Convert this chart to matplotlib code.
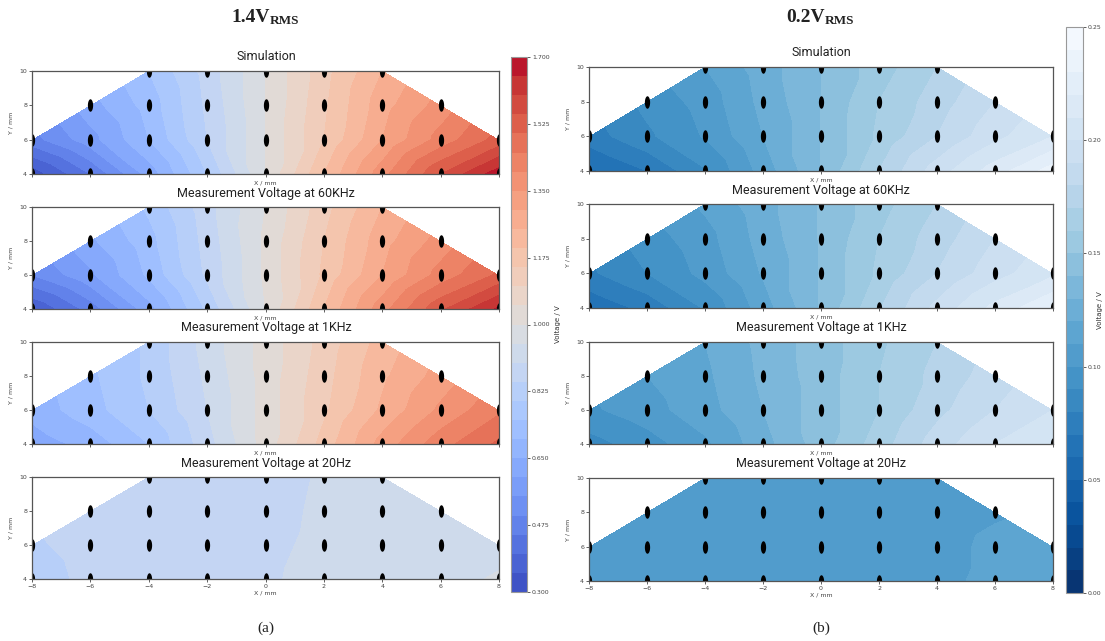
import numpy as np
import matplotlib.pyplot as plt
import matplotlib.tri as mtri

# measurement positions, one list of x per row (y = 10, 8, 6, 4 mm)
row_y = [10, 8, 6, 4]
row_x = [[-4, -2, 0, 2, 4],
         [-6, -4, -2, 0, 2, 4, 6],
         [-8, -6, -4, -2, 0, 2, 4, 6, 8],
         [-8, -6, -4, -2, 0, 2, 4, 6, 8]]

# 1.4 Vrms panel, voltages (rows as above)
sim_14 = [[0.75, 0.87, 1.00, 1.13, 1.25],
          [0.63, 0.72, 0.86, 1.00, 1.14, 1.28, 1.37],
          [0.48, 0.58, 0.70, 0.85, 1.00, 1.15, 1.30, 1.42, 1.52],
          [0.32, 0.45, 0.62, 0.80, 1.00, 1.20, 1.38, 1.55, 1.68]]
khz60_14 = [[0.76, 0.88, 1.00, 1.13, 1.25],
            [0.64, 0.73, 0.87, 1.01, 1.15, 1.28, 1.37],
            [0.50, 0.59, 0.71, 0.86, 1.01, 1.16, 1.30, 1.42, 1.51],
            [0.35, 0.47, 0.63, 0.81, 1.00, 1.20, 1.38, 1.54, 1.66]]
khz1_14 = [[0.81, 0.92, 1.02, 1.12, 1.22],
           [0.74, 0.81, 0.91, 1.02, 1.13, 1.24, 1.32],
           [0.67, 0.73, 0.80, 0.90, 1.02, 1.14, 1.26, 1.36, 1.44],
           [0.62, 0.67, 0.75, 0.88, 1.02, 1.17, 1.32, 1.43, 1.51]]
hz20_14 = [[0.875, 0.878, 0.882, 0.905, 0.915],
           [0.870, 0.875, 0.880, 0.885, 0.908, 0.918, 0.925],
           [0.845, 0.862, 0.872, 0.880, 0.890, 0.910, 0.922, 0.930, 0.935],
           [0.835, 0.858, 0.868, 0.878, 0.895, 0.912, 0.925, 0.935, 0.955]]

# 0.2 Vrms panel
sim_02 = [[0.110, 0.125, 0.140, 0.155, 0.170],
          [0.093, 0.104, 0.123, 0.140, 0.160, 0.175, 0.190],
          [0.075, 0.088, 0.101, 0.120, 0.140, 0.162, 0.180, 0.197, 0.210],
          [0.058, 0.070, 0.089, 0.114, 0.140, 0.170, 0.195, 0.215, 0.235]]
khz60_02 = [[0.112, 0.126, 0.141, 0.156, 0.170],
            [0.095, 0.106, 0.124, 0.141, 0.160, 0.175, 0.190],
            [0.078, 0.090, 0.103, 0.121, 0.141, 0.162, 0.180, 0.196, 0.208],
            [0.062, 0.073, 0.091, 0.115, 0.141, 0.169, 0.193, 0.213, 0.230]]
khz1_02 = [[0.120, 0.133, 0.145, 0.158, 0.170],
           [0.110, 0.118, 0.132, 0.145, 0.160, 0.173, 0.185],
           [0.098, 0.106, 0.116, 0.130, 0.145, 0.160, 0.177, 0.190, 0.200],
           [0.086, 0.095, 0.108, 0.126, 0.145, 0.165, 0.185, 0.200, 0.210]]
hz20_02 = [[0.105, 0.105, 0.105, 0.105, 0.105],
           [0.104, 0.105, 0.105, 0.105, 0.105, 0.106, 0.109],
           [0.103, 0.104, 0.105, 0.105, 0.105, 0.106, 0.107, 0.112, 0.114],
           [0.103, 0.104, 0.105, 0.105, 0.105, 0.106, 0.108, 0.112, 0.114]]

titles = ['Simulation', 'Measurement Voltage at 60KHz',
          'Measurement Voltage at 1KHz', 'Measurement Voltage at 20Hz']
x_ticks = [-8, -6, -4, -2, 0, 2, 4, 6, 8]
y_ticks = [4, 6, 8, 10]

W, H = 1105, 641
fig = plt.figure(figsize=(W / 100, H / 100), dpi=100)
narrow = ['Roboto', 'DejaVu Sans']


def box(x0, y0, x1, y1):
    # pixel box (top-left origin) -> figure fraction rect
    return [x0 / W, 1 - y1 / H, (x1 - x0) / W, (y1 - y0) / H]


px = np.concatenate([np.array(r, float) for r in row_x])
py = np.concatenate([np.full(len(r), yy, float) for r, yy in zip(row_x, row_y)])
tri = mtri.Triangulation(px, py)
XI, YI = np.meshgrid(np.linspace(-8, 8, 240), np.linspace(4, 10, 90))

t = np.linspace(0, 2 * np.pi, 40)
ell = np.column_stack([0.42 * np.cos(t), np.sin(t)])


def panel(data, rows, xl, xr, cmap, levels, cb_box, cb_ticks, fmt, tx, lab_x):
    cs = None
    for i, (vals, (top, bot)) in enumerate(zip(data, rows)):
        ax = fig.add_axes(box(xl, top, xr, bot))
        z = np.concatenate([np.array(r, float) for r in vals])
        ZI = mtri.LinearTriInterpolator(tri, z)(XI, YI)
        cs = ax.contourf(XI, YI, ZI, levels=levels, cmap=cmap)
        ax.plot(px, py, ls='none', marker=ell, ms=9, color='black', mew=0)
        ax.set_xlim(-8, 8)
        ax.set_ylim(4, 10)
        ax.set_yticks(y_ticks)
        ax.set_xticks(x_ticks)
        ax.tick_params(labelsize=4.5, length=2, width=0.6, pad=1.5, colors='#444444')
        if i < 3:
            ax.set_xticklabels([])
        ax.set_xlabel('X / mm', fontsize=4.5, labelpad=1, color='#444444')
        ax.set_ylabel('Y / mm', fontsize=4.5, labelpad=4, color='#444444')
        for s in ax.spines.values():
            s.set_color('#555555')
            s.set_linewidth(0.9)
        fig.text(tx / W, 1 - (top - 14) / H, titles[i], ha='center', va='center',
                 fontsize=9, family=narrow, color='#222222')
    cax = fig.add_axes(box(*cb_box))
    cb = fig.colorbar(cs, cax=cax, ticks=cb_ticks, format=fmt)
    cb.outline.set_edgecolor('#999999')
    cb.ax.tick_params(labelsize=4.5, length=2, width=0.6, pad=1.5, colors='#444444')
    cb.set_label('Voltage / V', fontsize=5, color='#333333')
    w = cb_box[2] - cb_box[0]
    cb.ax.yaxis.set_label_coords((lab_x - cb_box[0]) / w, 0.5)
    return cb


panel([sim_14, khz60_14, khz1_14, hz20_14],
      [(71, 174), (207, 309), (342, 444), (477, 579)], 32, 499,
      'coolwarm', np.linspace(0.3, 1.7, 29), (511, 57, 527, 592),
      np.linspace(0.3, 1.7, 9), '%.3f', 266, 555)

panel([sim_02, khz60_02, khz1_02, hz20_02],
      [(67, 171), (204, 308), (342, 444), (478, 581)], 589, 1053,
      'Blues_r', np.linspace(0.0, 0.25, 26), (1066, 27, 1083, 593),
      np.linspace(0.0, 0.25, 6), '%.2f', 821, 1097)

# panel headers and captions
for cx, volt in [(266, '1.4V'), (821, '0.2V')]:
    fig.text((cx + 4) / W, 1 - 18 / H, volt, ha='right', va='center',
             fontsize=14, fontweight='bold', family='Liberation Serif', color='#222222')
    fig.text((cx + 4) / W, 1 - 20.5 / H, 'RMS', ha='left', va='center',
             fontsize=9.5, fontweight='bold', family='Liberation Serif', color='#222222')
fig.text(266 / W, 1 - 628 / H, '(a)', ha='center', va='center',
         fontsize=11, family='Liberation Serif', color='#222222')
fig.text(821 / W, 1 - 628 / H, '(b)', ha='center', va='center',
         fontsize=11, family='Liberation Serif', color='#222222')

fig.savefig('out.png', dpi=100)
